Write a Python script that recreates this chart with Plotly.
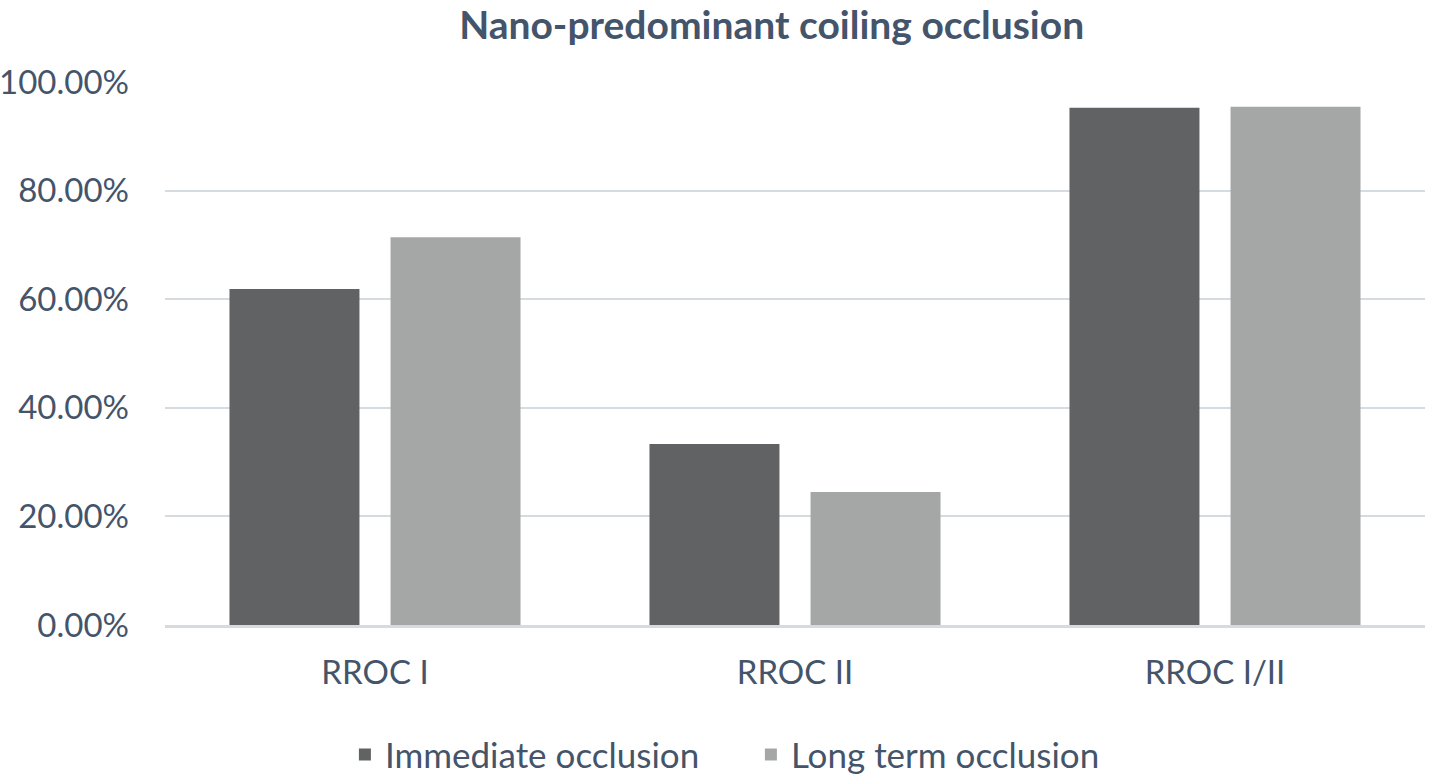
import plotly.graph_objects as go

categories = ["RROC I", "RROC II", "RROC I/II"]
immediate = [61.90, 33.33, 95.24]
long_term = [71.43, 24.49, 95.45]
series_names = ["Immediate occlusion", "Long term occlusion"]
tick_vals = [0, 20, 40, 60, 80, 100]
tick_text = ["0.00%", "20.00%", "40.00%", "60.00%", "80.00%", "100.00%"]

text_color = "#44546a"
font_family = "Lato, 'Open Sans', sans-serif"

fig = go.Figure()
fig.add_trace(go.Bar(x=categories, y=immediate, name=series_names[0],
                     marker=dict(color="#606263", line=dict(width=0))))
fig.add_trace(go.Bar(x=categories, y=long_term, name=series_names[1],
                     marker=dict(color="#a5a7a7", line=dict(width=0))))

fig.update_layout(
    width=1429, height=779,
    paper_bgcolor="white", plot_bgcolor="white",
    margin=dict(l=165, r=4, t=82, b=154, autoexpand=False),
    barmode="group", bargap=0.233, bargroupgap=0.193,
    font=dict(family=font_family, color=text_color, size=33),
    title=dict(text="<b>Nano-predominant coiling occlusion</b>",
               x=0.54, xanchor="center", y=0.968, yanchor="middle",
               font=dict(size=39, color=text_color, family=font_family)),
    legend=dict(orientation="h", x=0.465, xanchor="center",
                y=0.031, yref="container", yanchor="middle",
                font=dict(size=35, color=text_color), itemwidth=30,
                entrywidth=361, entrywidthmode="pixels",
                traceorder="normal"),
    xaxis=dict(showgrid=False, showline=True, linecolor="#d6dbe0", linewidth=3,
               ticks="", tickfont=dict(size=33, color=text_color), ticklabelstandoff=16),
    yaxis=dict(range=[0, 100], tickvals=tick_vals, ticktext=tick_text,
               showgrid=True, gridcolor="#d6dbe0", gridwidth=2,
               zeroline=False, showline=False, ticks="",
               tickfont=dict(size=33, color=text_color), ticklabelstandoff=35),
)

fig.write_html("out.html", config={"displayModeBar": False},
               post_script="document.body.style.margin='0';document.body.style.overflow='hidden';")
